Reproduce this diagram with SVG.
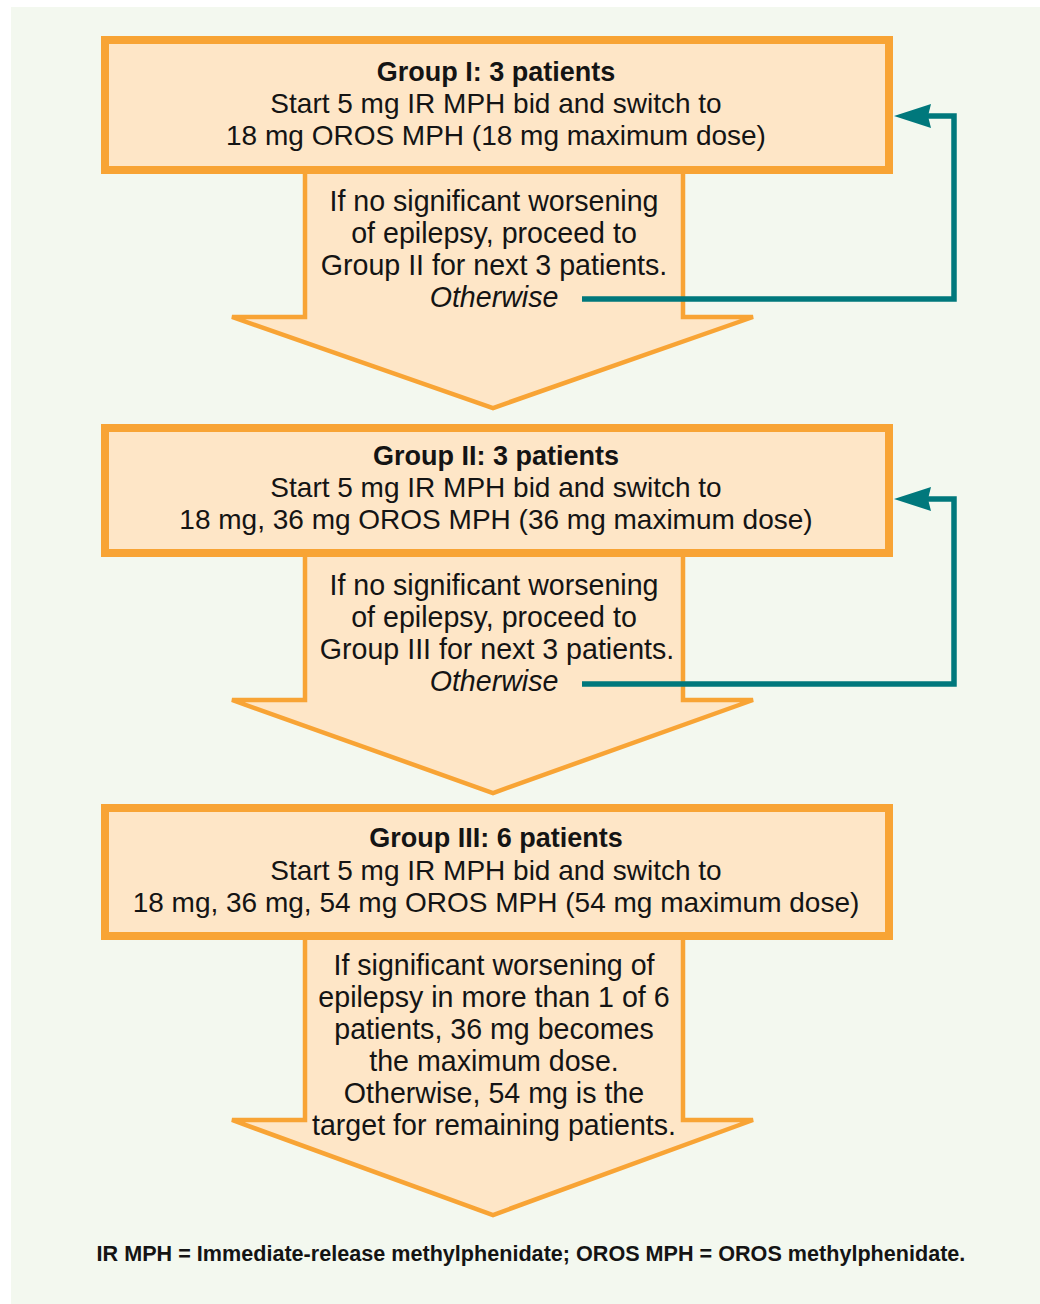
<svg xmlns="http://www.w3.org/2000/svg" width="1040" height="1304" viewBox="0 0 1040 1304">
<style>
.box{fill:#FEE6C7;stroke:#F8A435;stroke-width:8}
.arr{fill:#FEE6C7;stroke:#F8A435;stroke-width:4.5;stroke-linejoin:miter}
.t{font-family:"Liberation Sans",Arial,sans-serif;font-size:28px;fill:#141414;text-anchor:middle}
.a{font-size:28.6px}
.b{font-weight:bold;font-size:27px}
.i{font-style:italic}
.fn{font-family:"Liberation Sans",Arial,sans-serif;font-size:21.6px;font-weight:bold;fill:#141414;text-anchor:middle}
.con{fill:none;stroke:#00787C;stroke-width:5.5}
.ah{fill:#00787C}
</style>
<rect x="0" y="0" width="1040" height="1304" fill="#FFFFFF"/>
<rect x="11" y="7" width="1029" height="1297" fill="#F3F8EF"/>

<g id="arrow1">
<polygon class="arr" points="305,170 305,317 232,317 493,408 753,317 683,317 683,170"/>
<text class="t a" x="494" y="211">If no significant worsening</text>
<text class="t a" x="494" y="243">of epilepsy, proceed to</text>
<text class="t a" x="494" y="275">Group II for next 3 patients.</text>
<text class="t a i" x="494" y="307">Otherwise</text>
</g>
<g id="arrow2">
<polygon class="arr" points="305,553 305,700 232,700 493,793 753,700 683,700 683,553"/>
<text class="t a" x="494" y="595">If no significant worsening</text>
<text class="t a" x="494" y="627">of epilepsy, proceed to</text>
<text class="t a" x="497" y="659">Group III for next 3 patients.</text>
<text class="t a i" x="494" y="691">Otherwise</text>
</g>
<g id="arrow3">
<polygon class="arr" points="305,936 305,1120 232,1120 493,1215 753,1120 683,1120 683,936"/>
<text class="t a" x="494" y="975">If significant worsening of</text>
<text class="t a" x="494" y="1007">epilepsy in more than 1 of 6</text>
<text class="t a" x="494" y="1039">patients, 36 mg becomes</text>
<text class="t a" x="494" y="1071">the maximum dose.</text>
<text class="t a" x="494" y="1103">Otherwise, 54 mg is the</text>
<text class="t a" x="494" y="1135">target for remaining patients.</text>
</g>

<g id="group1">
<rect class="box" x="105" y="40" width="784" height="130"/>
<text class="t b" x="496" y="81">Group I: 3 patients</text>
<text class="t" x="496" y="113">Start 5 mg IR MPH bid and switch to</text>
<text class="t" x="496" y="145">18 mg OROS MPH (18 mg maximum dose)</text>
</g>
<g id="group2">
<rect class="box" x="105" y="428" width="784" height="125"/>
<text class="t b" x="496" y="465">Group II: 3 patients</text>
<text class="t" x="496" y="497">Start 5 mg IR MPH bid and switch to</text>
<text class="t" x="496" y="529">18 mg, 36 mg OROS MPH (36 mg maximum dose)</text>
</g>
<g id="group3">
<rect class="box" x="105" y="808" width="784" height="128"/>
<text class="t b" x="496" y="847">Group III: 6 patients</text>
<text class="t" x="496" y="880">Start 5 mg IR MPH bid and switch to</text>
<text class="t" x="496" y="912">18 mg, 36 mg, 54 mg OROS MPH (54 mg maximum dose)</text>
</g>

<g id="connectors">
<path class="con" d="M582,299 H954 V116 H925"/>
<polygon class="ah" points="894,116 931,104 928,116 931,128"/>
<path class="con" d="M582,684 H954 V499 H925"/>
<polygon class="ah" points="894,499 931,487 928,499 931,511"/>
</g>

<text class="fn" x="531" y="1261">IR MPH = Immediate-release methylphenidate; OROS MPH = OROS methylphenidate.</text>
</svg>
